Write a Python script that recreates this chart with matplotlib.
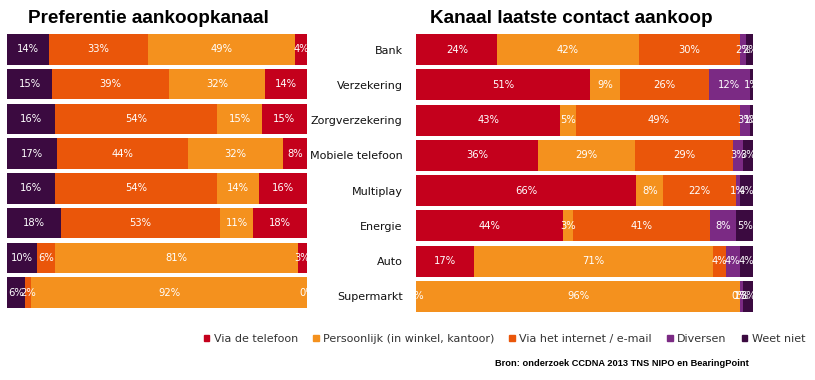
import numpy as np
import matplotlib.pyplot as plt
from matplotlib.patches import Patch

# linker grafiek: Preferentie aankoopkanaal (8 rijen, geen labels)
left_weet = [14, 15, 16, 17, 16, 18, 10, 6]
left_internet = [33, 39, 54, 44, 54, 53, 6, 2]
left_persoonlijk = [49, 32, 15, 32, 14, 11, 81, 92]
left_telefoon = [4, 14, 15, 8, 16, 18, 3, 0]

# rechter grafiek: Kanaal laatste contact aankoop
categories = ['Bank', 'Verzekering', 'Zorgverzekering', 'Mobiele telefoon',
              'Multiplay', 'Energie', 'Auto', 'Supermarkt']
right_telefoon = [24, 51, 43, 36, 66, 44, 17, 0]
right_persoonlijk = [42, 9, 5, 29, 8, 3, 71, 96]
right_internet = [30, 26, 49, 29, 22, 41, 4, 0]
right_diversen = [2, 12, 3, 3, 1, 8, 4, 1]
right_weet = [2, 1, 1, 3, 4, 5, 4, 3]

legend_labels = ['Via de telefoon', 'Persoonlijk (in winkel, kantoor)',
                 'Via het internet / e-mail', 'Diversen', 'Weet niet']

c_tel = '#C4001C'
c_pers = '#F4911E'
c_int = '#EA560A'
c_div = '#7B2A84'
c_weet = '#3B0A40'

title_font = ['Liberation Sans', 'DejaVu Sans']


def stacked(ax, series, colors):
    data = np.array(series, dtype=float)
    totals = data.sum(axis=0)
    y = np.arange(data.shape[1])
    left = np.zeros(data.shape[1])
    for vals, col in zip(data, colors):
        w = vals / totals * 100
        ax.barh(y, w, left=left, height=0.88, color=col, edgecolor='none')
        for yi, (li, wi, v) in enumerate(zip(left, w, vals)):
            ax.text(li + wi / 2, yi, f'{int(v)}%', ha='center', va='center',
                    color='white', fontsize=7.2, clip_on=True)
        left += w
    ax.set_xlim(0, 100)
    ax.set_ylim(len(y) - 0.5, -0.5)
    ax.set_xticks([])
    for s in ax.spines.values():
        s.set_visible(False)


fig = plt.figure(figsize=(8.15, 3.8), dpi=100)

ax1 = fig.add_axes([0.0086, 0.184, 0.368, 0.732])
stacked(ax1, [left_weet, left_internet, left_persoonlijk, left_telefoon],
        [c_weet, c_int, c_pers, c_tel])
ax1.set_yticks([])

ax2 = fig.add_axes([0.511, 0.174, 0.413, 0.742])
stacked(ax2, [right_telefoon, right_persoonlijk, right_internet, right_diversen, right_weet],
        [c_tel, c_pers, c_int, c_div, c_weet])
ax2.set_yticks(range(len(categories)))
ax2.set_yticklabels(categories, fontsize=8, color='#111111')
ax2.tick_params(axis='y', length=0, pad=10)

fig.text(0.034, 0.952, 'Preferentie aankoopkanaal', fontsize=13.6, fontweight='bold',
         family=title_font, va='center', ha='left')
fig.text(0.527, 0.952, 'Kanaal laatste contact aankoop', fontsize=13.6, fontweight='bold',
         family=title_font, va='center', ha='left')

handles = [Patch(color=c) for c in [c_tel, c_pers, c_int, c_div, c_weet]]
fig.legend(handles, legend_labels, loc='center', bbox_to_anchor=(0.619, 0.108),
           ncol=5, frameon=False, fontsize=8, handlelength=0.5, handleheight=0.5,
           handletextpad=0.4, columnspacing=1.35, labelcolor='#333333')

fig.text(0.919, 0.043, 'Bron: onderzoek CCDNA 2013 TNS NIPO en BearingPoint',
         fontsize=6.7, fontweight='bold', family=title_font,
         ha='right', va='center')

fig.savefig('out.png', dpi=100)
